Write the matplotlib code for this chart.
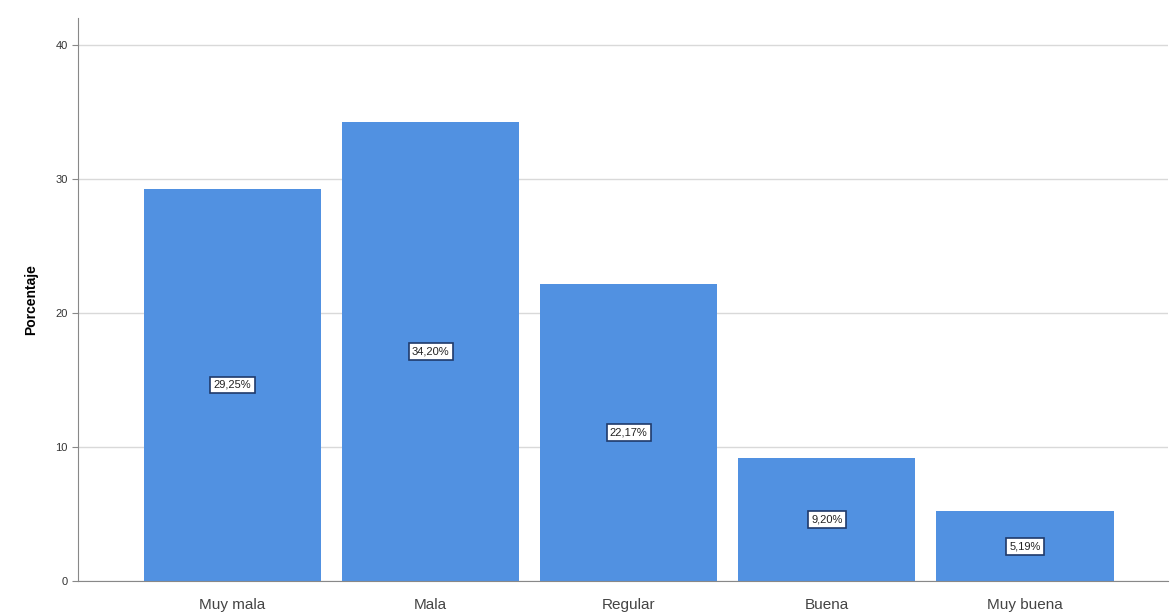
import matplotlib.pyplot as plt

# datos
categorias = ['Muy mala', 'Mala', 'Regular', 'Buena', 'Muy buena']
porcentajes = [29.25, 34.20, 22.17, 9.20, 5.19]
y_ticks = [0, 10, 20, 30, 40]

plt.rcParams['font.family'] = ['Liberation Sans', 'DejaVu Sans']

fig = plt.figure(figsize=(11.7, 6.16), dpi=100)
ax = fig.add_axes([0.0667, 0.0568, 0.9313, 0.9142])

x = range(len(categorias))
ax.bar(x, porcentajes, width=0.894, color='#5191E1', zorder=2)

# etiquetas dentro de cada barra
for i, v in enumerate(porcentajes):
    txt = ('%.2f%%' % v).replace('.', ',')
    ax.text(i, v / 2, txt, ha='center', va='center', fontsize=8,
            color='#222222', zorder=3,
            bbox=dict(boxstyle='square,pad=0.3', facecolor='white',
                      edgecolor='#1F3A6B', linewidth=1.2))

ax.set_xlim(-0.78, 4.72)
ax.set_ylim(0, 42)
ax.set_yticks(y_ticks)
ax.set_xticks(list(x))
ax.set_xticklabels(categorias, fontsize=11, color='#444444')
ax.tick_params(axis='y', labelsize=8, colors='#333333', length=4, color='#888888')
ax.tick_params(axis='x', length=0, pad=12)
ax.set_ylabel('Porcentaje', fontsize=10, fontweight='bold', labelpad=12)

ax.grid(axis='y', color='#D9D9D9', linewidth=1.0, zorder=0)
ax.spines['top'].set_visible(False)
ax.spines['right'].set_visible(False)
ax.spines['left'].set_color('#888888')
ax.spines['bottom'].set_color('#888888')

plt.savefig('out.png', dpi=100)
